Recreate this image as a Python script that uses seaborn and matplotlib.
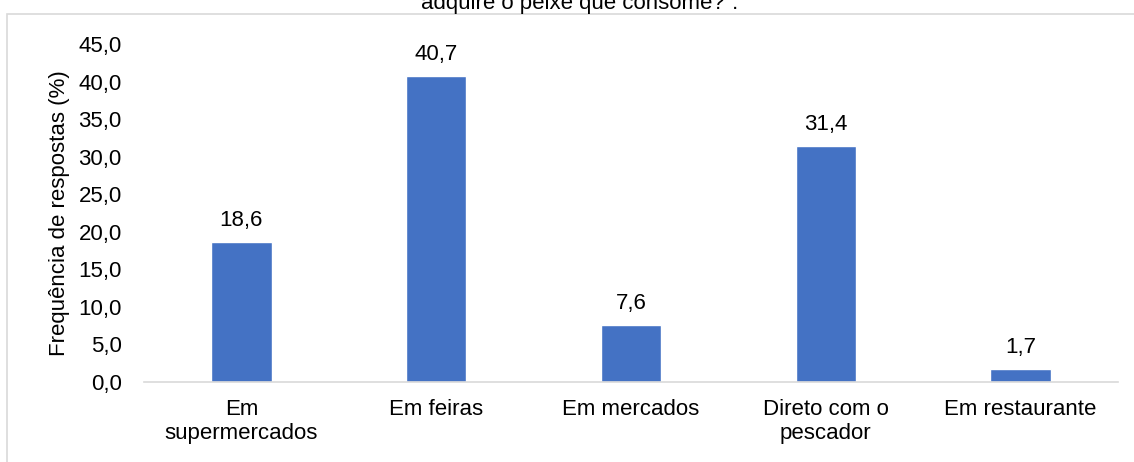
import matplotlib
matplotlib.use("Agg")
import matplotlib.pyplot as plt
import seaborn as sns
import pandas as pd
from matplotlib.patches import Rectangle

categories = ["Em\nsupermercados", "Em feiras", "Em mercados", "Direto com o\npescador", "Em restaurante"]
values = [18.6, 40.7, 7.6, 31.4, 1.7]
yticks = [0, 5, 10, 15, 20, 25, 30, 35, 40, 45]
title = "adquire o peixe que consome?\u201d."
ylabel = "Frequência de respostas (%)"

sns.set_theme(style="white")
plt.rcParams['font.family'] = ['Liberation Sans', 'DejaVu Sans']

FS = 16
df = pd.DataFrame({"cat": categories, "val": values})

fig = plt.figure(figsize=(11.34, 4.62), dpi=100)
ax = fig.add_axes([144/1134, 80/462, 974/1134, 338/462])

sns.barplot(data=df, x="cat", y="val", color="#4472C4", width=0.31, saturation=1, ax=ax)

ax.set_ylim(0, 45)
ax.set_xlim(-0.5, 4.5)
ax.set_yticks(yticks)
ax.set_yticklabels([f"{t:.1f}".replace(".", ",") for t in yticks], fontsize=FS, color="#000000")
ax.tick_params(axis="x", labelsize=FS, colors="#000000", length=0, pad=12)
ax.tick_params(axis="y", length=0, pad=16)
ax.set_xlabel("")
ax.set_ylabel(ylabel, fontsize=FS, color="#000000", labelpad=6)

for s in ["top", "right", "left"]:
    ax.spines[s].set_visible(False)
ax.spines["bottom"].set_color("#D9D9D9")
ax.spines["bottom"].set_linewidth(1.2)

for i, v in enumerate(values):
    ax.annotate(f"{v:.1f}".replace(".", ","), xy=(i, v), xytext=(0, 11.5), textcoords="offset points",
                ha="center", va="baseline", fontsize=FS, color="#000000")

# chart border
fig.patches.append(Rectangle((7/1134, -0.05), 1.2, 448/462 + 0.05, transform=fig.transFigure,
                             fill=False, edgecolor="#D9D9D9", linewidth=1.2))

fig.text(580/1134, 1 - 4/462, title, ha="center", va="center", fontsize=FS, color="#000000")

fig.savefig("out.png", dpi=100)
